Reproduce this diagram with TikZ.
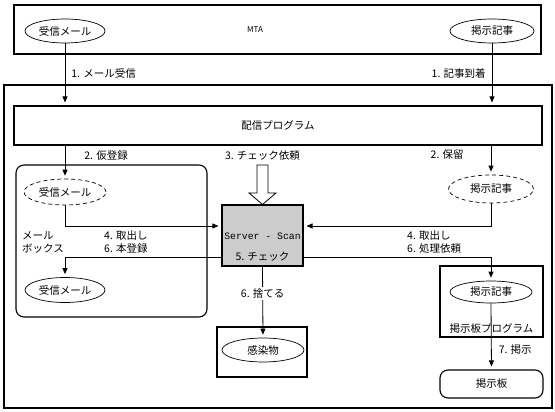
\documentclass[tikz,border=0pt]{standalone}
\usepackage{fontspec}
\setmainfont{Noto Sans CJK JP}
\newfontfamily\monofont{Liberation Mono}
\usetikzlibrary{arrows.meta,shapes.geometric,positioning}

\begin{document}
\begin{tikzpicture}[x=1pt,y=-1pt,font=\fontsize{10.5}{13}\selectfont,
  box/.style={draw,line width=1.1pt,inner sep=0pt},
  rbox/.style={box,rounded corners=8pt},
  ell/.style={draw,ellipse,line width=0.7pt,inner sep=0pt},
  dell/.style={ell,dash pattern=on 4pt off 3pt},
  arr/.style={line width=0.8pt,-{Triangle[length=6pt,width=5pt]},shorten >=3pt},
  lbl/.style={inner sep=1pt,align=left}]
  \useasboundingbox (0,0) rectangle (555,412);
  % frames
  \node[box,minimum width=527pt,minimum height=49pt] (mta)  at (277.5,29.5) {};
  \node[box,minimum width=548pt,minimum height=323pt] (host) at (278,246.5) {};
  \node[box,minimum width=528pt,minimum height=39pt] (dist) at (278,125.5) {配信プログラム};
  \node[rbox,minimum width=191pt,minimum height=152pt] (mbox) at (111.5,241) {};
  \node[box,fill=black!20,minimum width=81pt,minimum height=61pt] (scan) at (262.5,235.5) {};
  \node[box,minimum width=103pt,minimum height=71pt] (bbs)  at (491.5,301.5) {};
  \node[rbox,minimum width=103pt,minimum height=28pt] (board) at (491.5,384) {掲示板};
  \node[box,minimum width=90pt,minimum height=50pt] (trash) at (262,352) {};
  % ellipses
  \node[ell,minimum width=80pt,minimum height=24pt]  (mail_1) at (65,31)   {受信メール};
  \node[ell,minimum width=84pt,minimum height=24pt]  (post_1) at (492,31)  {掲示記事};
  \node[dell,minimum width=82pt,minimum height=26pt] (mail_2) at (65,192)  {受信メール};
  \node[dell,minimum width=85pt,minimum height=28pt] (post_2) at (491,189) {掲示記事};
  \node[ell,minimum width=80pt,minimum height=25pt]  (mail_3) at (65,290)  {受信メール};
  \node[ell,minimum width=82pt,minimum height=22pt]  (post_3) at (491,292) {掲示記事};
  \node[ell,minimum width=82pt,minimum height=24pt]  (virus)  at (263,350) {感染物};
  % texts
  \node[font=\fontsize{8}{9}\selectfont] (mta_t) at (255,30) {MTA};
  \node[font=\monofont\fontsize{9.8}{11}\selectfont] (scan_t) at (262.5,236) {Server - Scan};
  \node (scan_c) at (262.5,257) {5. チェック};
  \node[lbl,anchor=west] (mbox_t) at (21,242) {メール\\ボックス};
  \node[lbl,anchor=south] (bbs_t) at (491.5,335) {掲示板プログラム};
  % connectors
  \draw[arr] (mail_1.south) -- node[lbl,right=5pt,pos=0.48] {1. メール受信} (mail_1.south |- dist.north);
  \draw[arr] (post_1.south) -- node[lbl,left=5pt,pos=0.48] {1. 記事到着} (post_1.south |- dist.north);
  \draw[arr] (dist.south -| mail_2) -- node[lbl,right=18pt,pos=0.3] {2. 仮登録} (mail_2.north);
  \draw[arr] (dist.south -| post_2) -- node[lbl,left=26pt,pos=0.3] {2. 保留} (post_2.north);
  \draw[line width=0.8pt,fill=white] (257,165) -- (268,165) -- (268,193) -- (276,193)
    -- (scan.north) -- (249,193) -- (257,193) -- cycle;
  \node (req) at (262.5,156) {3. チェック依頼};
  \draw[arr] (mail_2.south) |- ([yshift=9.5pt]scan.west);
  \draw[arr] (post_2.south) |- ([yshift=9.5pt]scan.east);
  \draw[arr] ([yshift=-21.5pt]scan.west) -| (mail_3.north);
  \draw[arr] ([yshift=-21.5pt]scan.east) -| (post_3.north);
  \node[lbl,anchor=west] (take_l) at (103,242) {4. 取出し\\6. 本登録};
  \node[lbl,anchor=west] (take_r) at (406,242) {4. 取出し\\6. 処理依頼};
  \draw[arr] (scan.south) -- node[fill=white,pos=0.38,inner sep=2pt] {6. 捨てる} (virus.north);
  \draw[arr] (post_3.south) -- node[lbl,right=6pt,pos=0.7] {7. 掲示} (board.north);
\end{tikzpicture}
\end{document}
